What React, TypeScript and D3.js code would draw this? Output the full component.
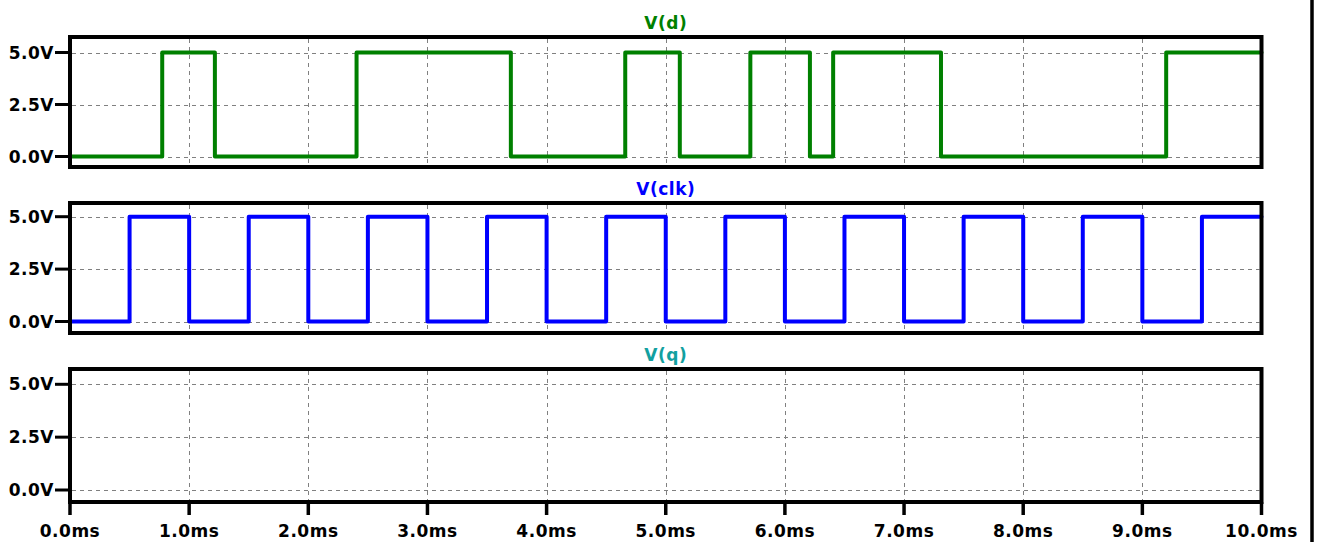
import React from "react";
import * as d3 from "d3";

// ---- data ----
const timeTicks = [0, 1, 2, 3, 4, 5, 6, 7, 8, 9, 10];
const timeTickLabels = ["0.0ms", "1.0ms", "2.0ms", "3.0ms", "4.0ms", "5.0ms", "6.0ms", "7.0ms", "8.0ms", "9.0ms", "10.0ms"];
const voltTicks = [0, 2.5, 5];
const voltTickLabels = ["0.0V", "2.5V", "5.0V"];

const dTimes = [0, 0.774, 1.216, 2.405, 3.70, 4.66, 5.118, 5.71, 6.21, 6.405, 7.31, 9.20, 10];
const dValues = [0, 5, 0, 5, 0, 5, 0, 5, 0, 5, 0, 5, 5];

const clkTimes = [0, 0.5, 1.0, 1.5, 2.0, 2.5, 3.0, 3.5, 4.0, 4.5, 5.0, 5.5, 6.0, 6.5, 7.0, 7.5, 8.0, 8.5, 9.0, 9.5, 10];
const clkValues = [0, 5, 0, 5, 0, 5, 0, 5, 0, 5, 0, 5, 0, 5, 0, 5, 0, 5, 0, 5, 5];

const qTimes: number[] = [];
const qValues: number[] = [];

const traceNames = ["V(d)", "V(clk)", "V(q)"];
const traceColors = ["#008000", "#0000ff", "#12a0a0"];

// ---- layout ----
const W = 1322;
const H = 542;
const X0 = 70;
const X1 = 1261.5;
const panels = [
  { top: 37, bottom: 167, y5: 52.5, y0: 156.5, titleY: 29 },
  { top: 203, bottom: 333, y5: 216.7, y0: 321.5, titleY: 195 },
  { top: 369, bottom: 502, y5: 384.3, y0: 490, titleY: 361 },
];

const FONT = "'DejaVu Sans', sans-serif";
const FS = 17;
const LS = 0.5;

export default function App() {
  const x = d3.scaleLinear().domain([0, 10]).range([X0, X1]);
  const series = [
    { t: dTimes, v: dValues },
    { t: clkTimes, v: clkValues },
    { t: qTimes, v: qValues },
  ];

  return (
    <svg
      width={W}
      height={H}
      style={{ position: "absolute", left: 0, top: 0, background: "#fff" }}
    >
      <rect x={0} y={0} width={W} height={H} fill="#fff" />
      {panels.map((p, i) => {
        const y = d3.scaleLinear().domain([0, 5]).range([p.y0, p.y5]);
        const s = series[i];
        const pts: [number, number][] = s.t.map((t, k) => [t, s.v[k]]);
        const line = d3
          .line<[number, number]>()
          .x((d) => x(d[0]))
          .y((d) => y(d[1]))
          .curve(d3.curveStepAfter);
        const path = pts.length ? line(pts) : null;
        return (
          <g key={i}>
            {timeTicks.slice(1, -1).map((t) => (
              <line
                key={"gx" + t}
                x1={Math.round(x(t)) + 0.5}
                x2={Math.round(x(t)) + 0.5}
                y1={p.top + 2}
                y2={p.bottom - 2}
                stroke="#808080"
                strokeWidth={1}
                strokeDasharray="4,4"
              />
            ))}
            {voltTicks.map((v) => (
              <line
                key={"gy" + v}
                x1={X0 + 2}
                x2={X1 - 2}
                y1={Math.round(y(v)) + 0.5}
                y2={Math.round(y(v)) + 0.5}
                stroke="#808080"
                strokeWidth={1}
                strokeDasharray="4,4"
              />
            ))}
            {path && (
              <path
                d={path}
                fill="none"
                stroke={traceColors[i]}
                strokeWidth={4}
                strokeLinejoin="round"
                strokeLinecap="round"
              />
            )}
            <rect
              x={X0}
              y={p.top}
              width={X1 - X0}
              height={p.bottom - p.top}
              fill="none"
              stroke="#000"
              strokeWidth={4}
            />
            {voltTicks.map((v, k) => (
              <g key={"yt" + v}>
                <line x1={55} x2={X0} y1={y(v)} y2={y(v)} stroke="#000" strokeWidth={3} />
                <text
                  x={54}
                  y={y(v) + 6}
                  textAnchor="end"
                  fontFamily={FONT}
                  fontWeight="bold"
                  fontSize={FS}
                  letterSpacing={LS}
                  fill="#000"
                >
                  {voltTickLabels[k]}
                </text>
              </g>
            ))}
            <text
              x={x(5)}
              y={p.titleY}
              textAnchor="middle"
              fontFamily={FONT}
              fontWeight="bold"
              fontSize={FS}
              letterSpacing={LS}
              fill={traceColors[i]}
            >
              {traceNames[i]}
            </text>
          </g>
        );
      })}
      {timeTicks.map((t, k) => (
        <g key={"xt" + t}>
          <line x1={x(t)} x2={x(t)} y1={panels[2].bottom} y2={515} stroke="#000" strokeWidth={3.5} />
          <text
            x={x(t)}
            y={537}
            textAnchor="middle"
            fontFamily={FONT}
            fontWeight="bold"
            fontSize={FS}
            letterSpacing={LS}
            fill="#000"
          >
            {timeTickLabels[k]}
          </text>
        </g>
      ))}
      <line x1={1312} x2={1312} y1={0} y2={H} stroke="#000" strokeWidth={3.5} />
    </svg>
  );
}
